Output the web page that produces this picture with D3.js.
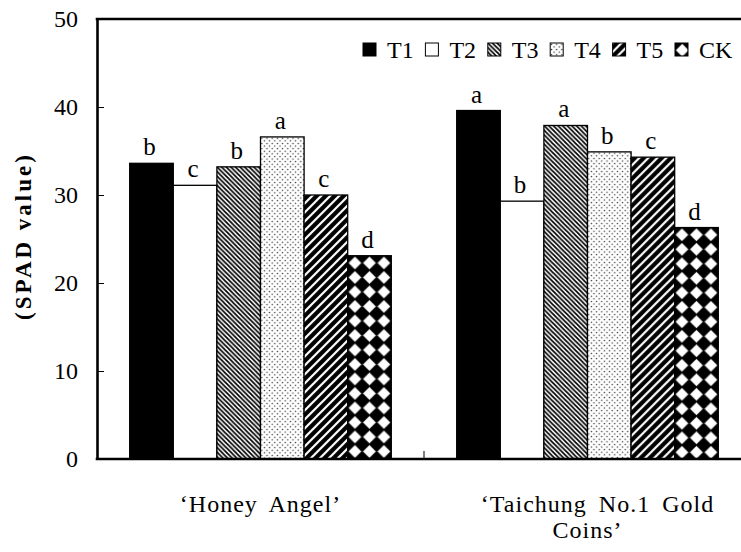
<!DOCTYPE html>
<html>
<head>
<meta charset="utf-8">
<script src="https://cdn.jsdelivr.net/npm/d3@7"></script>
<style>
  body { margin: 0; background: #fff; }
  svg text { font-family: "Liberation Serif", "Times New Roman", serif; fill: #000; }
</style>
</head>
<body>
<svg id="chart" width="741" height="552"></svg>
<script>
"use strict";
// data
const categories = ["honey", "taichung"];
const categoryLines = [["\u2018Honey Angel\u2019"], ["\u2018Taichung No.1 Gold", "Coins\u2019"]];
const seriesNames = ["T1", "T2", "T3", "T4", "T5", "CK"];
const honeyAngel = [33.6, 31.1, 33.2, 36.6, 30.0, 23.1];
const taichungGold = [39.6, 29.3, 37.9, 34.9, 34.3, 26.3];
const honeyLetters = ["b", "c", "b", "a", "c", "d"];
const taichungLetters = ["a", "b", "a", "b", "c", "d"];
const yTicks = [0, 10, 20, 30, 40, 50];

const svg = d3.select("#chart");
const plotLeft = 97, plotRight = 751, plotTop = 19, plotBottom = 459;

const y = d3.scaleLinear().domain([0, 50]).range([plotBottom, plotTop]);
const x0 = d3.scaleBand().domain(categories).range([plotLeft, plotRight]);
const bw = x0.bandwidth();
const x1 = d3.scaleBand().domain(seriesNames).range([0.1 * bw, 0.9 * bw]);

// fill patterns
const defs = svg.append("defs");
function pat(id, w, h) {
  return defs.append("pattern").attr("id", id)
    .attr("patternUnits", "userSpaceOnUse")
    .attr("width", w).attr("height", h);
}
pat("p-T1", 4, 4).append("rect").attr("width", 4).attr("height", 4).attr("fill", "#000");
pat("p-T2", 4, 4).append("rect").attr("width", 4).attr("height", 4).attr("fill", "#fff");

let p = pat("p-T3", 4.6, 4.6);
p.append("rect").attr("width", 4.6).attr("height", 4.6).attr("fill", "#fff");
p.append("path").attr("d", "M0,0L4.6,4.6M-1,3.6L1,5.6M3.6,-1L5.6,1")
  .attr("stroke", "#000").attr("stroke-width", 1.7);

p = pat("p-T4", 5.2, 5.2);
p.append("rect").attr("width", 5.2).attr("height", 5.2).attr("fill", "#fff");
p.append("circle").attr("cx", 1.3).attr("cy", 1.3).attr("r", 0.75).attr("fill", "#333");
p.append("circle").attr("cx", 3.9).attr("cy", 3.9).attr("r", 0.75).attr("fill", "#333");

p = pat("p-T5", 9, 9);
p.append("rect").attr("width", 9).attr("height", 9).attr("fill", "#000");
p.append("path").attr("d", "M0,9L9,0M-1,1L1,-1M8,10L10,8")
  .attr("stroke", "#fff").attr("stroke-width", 2.2);

p = pat("p-CK", 14.5, 14.5);
p.append("rect").attr("width", 14.5).attr("height", 14.5).attr("fill", "#000");
p.append("path").attr("d", "M7.25,1.2L13.3,7.25L7.25,13.3L1.2,7.25Z")
  .attr("fill", "#fff").attr("stroke", "#fff").attr("stroke-width", 0.8)
  .attr("stroke-linejoin", "round");

// bars
const groups = [
  { cat: "honey", values: honeyAngel, letters: honeyLetters },
  { cat: "taichung", values: taichungGold, letters: taichungLetters }
];

groups.forEach(grp => {
  const rows = seriesNames.map((s, i) => ({ s: s, v: grp.values[i], l: grp.letters[i] }));
  const g = svg.append("g").attr("transform", `translate(${x0(grp.cat)},0)`);
  const bar = g.selectAll("g.bar").data(rows).enter().append("g")
    .attr("class", "bar")
    .attr("transform", d => `translate(${x1(d.s)},${y(d.v)})`);
  bar.append("rect")
    .attr("width", x1.bandwidth())
    .attr("height", d => y(0) - y(d.v))
    .attr("fill", d => `url(#p-${d.s})`)
    .attr("stroke", "#000").attr("stroke-width", 1.3);
  g.selectAll("text.sig").data(rows).enter().append("text")
    .attr("class", "sig")
    .attr("x", d => x1(d.s) + x1.bandwidth() / 2 - 2)
    .attr("y", d => y(d.v) - 8)
    .attr("text-anchor", "middle")
    .attr("font-size", 25)
    .text(d => d.l);
});

// frame
const yAxis = d3.axisLeft(y).tickValues(yTicks).tickSize(-7).tickSizeOuter(0).tickPadding(19);
const ya = svg.append("g").attr("transform", `translate(${plotLeft},0)`).call(yAxis);
ya.select(".domain").attr("stroke-width", 2.6);
ya.selectAll(".tick line").attr("stroke-width", 1);
ya.selectAll(".tick text").attr("font-size", 24).attr("font-family", "Liberation Serif").attr("fill", "#000");

svg.append("line").attr("x1", plotLeft - 1.3).attr("x2", plotRight).attr("y1", plotTop).attr("y2", plotTop)
  .attr("stroke", "#000").attr("stroke-width", 2.6);
svg.append("line").attr("x1", plotLeft - 1.3).attr("x2", plotRight).attr("y1", plotBottom).attr("y2", plotBottom)
  .attr("stroke", "#000").attr("stroke-width", 2.6);
// category divider tick
svg.append("line").attr("x1", x0("taichung")).attr("x2", x0("taichung"))
  .attr("y1", plotBottom).attr("y2", plotBottom - 8)
  .attr("stroke", "#000").attr("stroke-width", 1);

// category labels
categories.forEach((c, i) => {
  const t = svg.append("text")
    .attr("text-anchor", "middle")
    .attr("font-size", 24)
    .attr("letter-spacing", 1)
    .attr("word-spacing", 5);
  categoryLines[i].forEach((line, j) => {
    t.append("tspan").attr("x", x0(c) + bw / 2 + (j === 0 && i === 1 ? 10 : 0))
      .attr("y", 512 + j * 26).text(line);
  });
});

// y title
svg.append("text")
  .attr("transform", "translate(31,236) rotate(-90)")
  .attr("text-anchor", "middle")
  .attr("font-size", 23)
  .attr("font-weight", "bold")
  .attr("letter-spacing", 3)
  .text("(SPAD value)");

// legend
const lx = d3.scalePoint().domain(seriesNames).range([363, 675]);
const leg = svg.selectAll("g.leg").data(seriesNames).enter().append("g")
  .attr("class", "leg")
  .attr("transform", d => `translate(${lx(d)},43)`);
leg.append("rect").attr("width", 13).attr("height", 13)
  .attr("fill", d => `url(#p-${d})`)
  .attr("stroke", "#000").attr("stroke-width", 1);
leg.append("text").attr("x", 24).attr("y", 14.5)
  .attr("font-size", 24)
  .text(d => d);
</script>
</body>
</html>
